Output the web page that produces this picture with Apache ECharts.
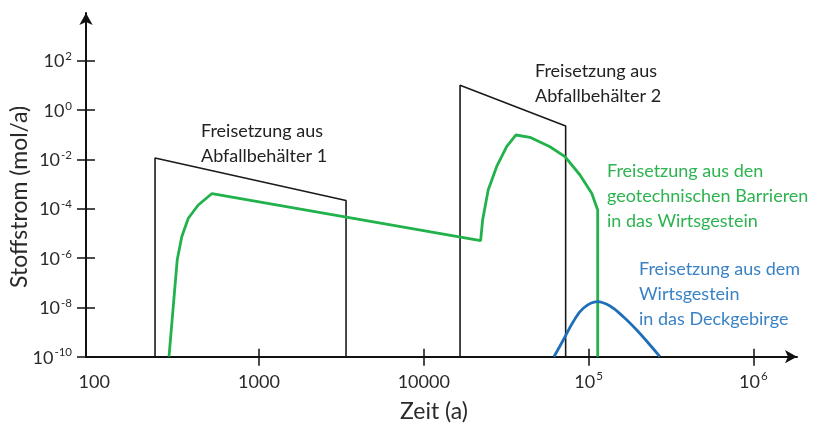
<!DOCTYPE html>
<html>
<head>
<meta charset="utf-8">
<script src="https://cdn.jsdelivr.net/npm/echarts@6/dist/echarts.min.js"></script>
<style>
html,body{margin:0;padding:0;background:#fff;}
#chart{width:827px;height:425px;}
</style>
</head>
<body>
<div id="chart"></div>
<script>
// ---- data (time in years, flux in mol/a) ----
const container1 = [[234, 1e-10], [234, 0.0113], [3375, 2.15e-4], [3375, 1e-10]];
const container2 = [[16600, 1e-10], [16600, 10], [72600, 0.225], [72600, 1e-10]];
const barrierRelease = [
  [284.5, 1e-10], [319, 8.3e-7], [340, 7.3e-6], [372.5, 4.1e-5], [428.3, 1.41e-4],
  [518.6, 4.12e-4], [22130, 5.04e-6], [22760, 3.48e-5], [24600, 5.7e-4],
  [27670, 5.04e-3], [31830, 0.0325], [36270, 0.097], [44080, 0.078],
  [58300, 0.0325], [71900, 0.0128], [88700, 2.32e-3], [104500, 4.2e-4],
  [113600, 8.8e-5], [113600, 1e-10]
];
const hostRockRelease = [
  [61650, 1e-10], [70240, 4.75e-10], [80700, 2.62e-9], [92900, 9.2e-9],
  [112900, 1.7e-8], [134900, 1.13e-8], [162500, 4.18e-9], [196000, 1.21e-9],
  [236000, 2.98e-10], [271000, 1e-10]
];
// ticks
const xTickValues = [100, 1000, 10000, 100000, 1000000];
const xTickLabels = ['100', '1000', '10000', '10^5', '10^6'];
const xTickMarks = [1000, 10000, 100000, 1000000];
const yTickExponents = [-10, -8, -6, -4, -2, 0, 2];
const yTickValues = yTickExponents.map(e => Math.pow(10, e));
// annotation texts
const noteContainer1 = ['Freisetzung aus', 'Abfallbehälter 1'];
const noteContainer2 = ['Freisetzung aus', 'Abfallbehälter 2'];
const noteBarrier = ['Freisetzung aus den', 'geotechnischen Barrieren', 'in das Wirtsgestein'];
const noteHostRock = ['Freisetzung aus dem', 'Wirtsgestein', 'in das Deckgebirge'];

const FONT = 'Lato';
const AXIS_COLOR = '#111';
const GREEN = '#22b24c';
const BLUE = '#1f6fb8';

function supLabel(s) {
  const m = /^(\d+)\^(-?\d+)$/.exec(s);
  if (m) return '{b|' + m[1] + '}{s|' + m[2] + '}';
  return '{b|' + s + '}';
}
const richStyle = {
  b: { fontSize: 18, fontFamily: FONT, color: '#2a2a2a', lineHeight: 20, verticalAlign: 'bottom' },
  s: { fontSize: 11.5, fontFamily: FONT, color: '#2a2a2a', lineHeight: 20, verticalAlign: 'top', padding: [0, 0, 7, 1] }
};

const xMin = 89.2, xMax = 1.84e6, yMin = 1e-10, yMax = 8550;

const xBase = {
  type: 'log', min: xMin, max: xMax, position: 'bottom', splitLine: { show: false }
};
const yBase = {
  type: 'log', min: yMin, max: yMax, position: 'left', splitLine: { show: false }
};

function textBlock(lines, x, y, color) {
  return {
    type: 'text', left: x, top: y,
    style: {
      text: lines.join('\n'), fill: color, font: '18px ' + FONT,
      lineHeight: 25, align: 'left'
    }
  };
}

const chart = echarts.init(document.getElementById('chart'), null, { renderer: 'canvas' });
chart.setOption({
  animation: false,
  backgroundColor: '#fff',
  grid: { left: 86, right: 30, top: 13, bottom: 68.3, containLabel: false, outerBoundsMode: 'none' },
  xAxis: [
    Object.assign({}, xBase, {
      name: 'Zeit (a)', nameLocation: 'middle', nameGap: 43,
      nameTextStyle: { fontFamily: FONT, fontSize: 23, color: '#2a2a2a', padding: [0, 15, 0, 0] },
      axisLine: { show: true, onZero: false, symbol: ['none', 'arrow'], symbolSize: [10, 12],
        lineStyle: { color: AXIS_COLOR, width: 2 } },
      axisTick: { show: true, inside: false, length: 9, customValues: xTickMarks,
        lineStyle: { color: AXIS_COLOR, width: 1.5 } },
      axisLabel: { show: true, margin: 14, customValues: xTickValues,
        formatter: function (v) {
          const i = xTickValues.findIndex(t => Math.abs(Math.log10(t) - Math.log10(v)) < 1e-6);
          return i >= 0 ? supLabel(xTickLabels[i]) : '';
        }, rich: richStyle }
    }),
    Object.assign({}, xBase, {
      axisLine: { show: false, onZero: false },
      axisTick: { show: true, inside: true, length: 8, customValues: xTickMarks,
        lineStyle: { color: AXIS_COLOR, width: 1.5 } },
      axisLabel: { show: false }
    })
  ],
  yAxis: [
    Object.assign({}, yBase, {
      name: 'Stoffstrom (mol/a)', nameLocation: 'middle', nameGap: 55, nameRotate: 90,
      nameMoveOverlap: false,
      nameTextStyle: { fontFamily: FONT, fontSize: 23, color: '#2a2a2a', padding: [0, 24, 0, 0] },
      axisLine: { show: true, onZero: false, symbol: ['none', 'arrow'], symbolSize: [10, 12],
        lineStyle: { color: AXIS_COLOR, width: 2 } },
      axisTick: { show: true, inside: false, length: 9, customValues: yTickValues,
        lineStyle: { color: AXIS_COLOR, width: 1.5 } },
      axisLabel: { show: true, margin: 14, customValues: yTickValues,
        formatter: function (v) {
          const e = Math.round(Math.log10(v));
          return '{b|10}{s|' + e + '}';
        }, rich: richStyle }
    }),
    Object.assign({}, yBase, {
      axisLine: { show: false, onZero: false },
      axisTick: { show: true, inside: true, length: 9, customValues: yTickValues,
        lineStyle: { color: AXIS_COLOR, width: 1.5 } },
      axisLabel: { show: false }
    })
  ],
  series: [
    { type: 'line', name: 'Abfallbehälter', data: container1.concat([[null, null]], container2),
      connectNulls: false, symbol: 'none', lineStyle: { color: '#1a1a1a', width: 1.6 }, z: 3 },
    { type: 'line', name: 'Geotechnische Barrieren', data: barrierRelease, symbol: 'none',
      lineStyle: { color: GREEN, width: 2.8 }, z: 4 },
    { type: 'line', name: 'Wirtsgestein', data: hostRockRelease, symbol: 'none', smooth: 0.4,
      lineStyle: { color: BLUE, width: 2.8 }, z: 4 }
  ],
  graphic: [
    textBlock(noteContainer1, 201, 119, '#222'),
    textBlock(noteContainer2, 535, 59, '#222'),
    textBlock(noteBarrier, 607, 159, '#2db350'),
    textBlock(noteHostRock, 639, 257, '#3a82c6')
  ]
});
</script>
</body>
</html>
